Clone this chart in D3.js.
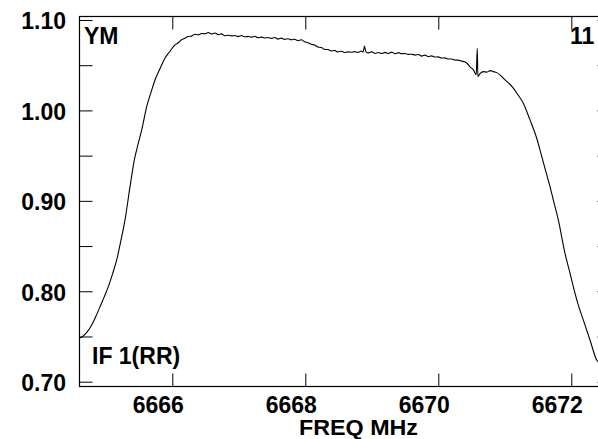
<!DOCTYPE html>
<html><head><meta charset="utf-8">
<script src="https://cdn.jsdelivr.net/npm/d3@7"></script>
<style>html,body{margin:0;padding:0;background:#fff;overflow:hidden}</style>
</head><body><svg id="c" width="598" height="439"></svg>
<script>
// Spectrum data: frequency (MHz) and normalized amplitude
const freq = [6664.597,6664.647,6664.72,6664.788,6664.85,6664.913,6664.975,6665.038,6665.10,6665.164,6665.225,6665.289,6665.364,6665.429,6665.49,6665.540,6665.615,6665.68,6665.740,6665.820,
6665.889,6665.95,6666.00,6666.04,6666.09,6666.14,6666.19,6666.24,6666.29,6666.34,6666.39,6666.44,6666.49,6666.54,6666.59,6666.64,6666.69,6666.74,6666.79,6666.84,6666.89,6666.94,6666.99,
6667.04,6667.09,6667.14,6667.19,6667.24,6667.29,6667.34,6667.39,6667.44,6667.49,6667.54,6667.59,6667.64,6667.69,6667.74,6667.79,6667.84,6667.89,6667.94,6667.99,
6668.04,6668.09,6668.14,6668.19,6668.24,6668.29,6668.34,6668.39,6668.44,6668.49,6668.54,6668.59,6668.64,6668.69,6668.74,6668.79,6668.84,6668.87,6668.89,6668.91,6668.95,
6669.00,6669.05,6669.10,6669.15,6669.20,6669.25,6669.30,6669.35,6669.40,6669.45,6669.50,6669.55,6669.60,6669.65,6669.70,6669.75,6669.80,6669.85,6669.90,6669.95,
6670.00,6670.05,6670.10,6670.15,6670.20,6670.25,6670.30,6670.35,6670.40,6670.43,6670.48,6670.53,6670.57,6670.586,6670.595,6670.63,6670.68,6670.73,6670.78,6670.83,6670.88,6670.94,
6671.003,6671.07,6671.128,6671.20,6671.278,6671.379,6671.480,6671.529,6671.60,6671.680,6671.74,6671.805,6671.905,6671.97,6672.030,6672.10,6672.180,6672.281,6672.382,6672.417,6672.47];
const amp = [0.7483,0.7498,0.7550,0.7627,0.7720,0.7830,0.7935,0.8051,0.8190,0.8346,0.8555,0.8789,0.9157,0.9452,0.9640,0.9784,1.0042,1.0200,1.0337,1.0470,
1.0577,1.0640,1.0690,1.0725,1.0748,1.0781,1.0799,1.0818,1.0822,1.0843,1.0836,1.0850,1.0848,1.0861,1.0845,1.0857,1.0838,1.0846,1.0826,1.0831,1.0824,1.0829,1.0816,
1.0828,1.0814,1.0819,1.0810,1.0821,1.0803,1.0811,1.0801,1.0806,1.0797,1.0807,1.0789,1.0800,1.0785,1.0793,1.0782,1.0787,1.0771,1.0781,1.0760,
1.0749,1.0731,1.0723,1.0702,1.0696,1.0675,1.0673,1.0657,1.0664,1.0646,1.0655,1.0641,1.0647,1.0644,1.0650,1.0641,1.0657,1.0647,1.0712,1.0651,1.0636,
1.0648,1.0630,1.0640,1.0629,1.0642,1.0630,1.0645,1.0628,1.0639,1.0627,1.0630,1.0620,1.0622,1.0612,1.0619,1.0601,1.0612,1.0594,1.0603,1.0590,
1.0592,1.0580,1.0581,1.0568,1.0569,1.0557,1.0556,1.0545,1.0538,1.0522,1.0480,1.0445,1.0395,1.0688,1.0374,1.0410,1.0429,1.0424,1.0440,1.0429,1.0418,1.0385,
1.0337,1.0295,1.0246,1.0170,1.0080,0.9895,0.9692,0.9564,0.9370,0.9157,0.8980,0.8789,0.8420,0.8230,0.8051,0.7860,0.7683,0.7461,0.7240,0.7207,0.7130];

const xTicks = [6666, 6668, 6670, 6672];
const yMajor = [0.70, 0.80, 0.90, 1.00, 1.10];
const yMinor = [0.70,0.75,0.80,0.85,0.90,0.95,1.00,1.05,1.10];
const xTitle = "FREQ MHz";
const labelTL = "YM", labelTR = "11", labelBL = "IF 1(RR)";

const L = 79, R = 610, T = 16, B = 386;
const x = d3.scaleLinear().domain([6664.597, 6672.582]).range([L, R]);
const y = d3.scaleLinear().domain([0.69524, 1.10442]).range([B, T]);

const svg = d3.select("#c");
const font = "'Liberation Sans', Arial, sans-serif";

svg.append("clipPath").attr("id","cp").append("rect")
  .attr("x", L).attr("y", T).attr("width", R-L).attr("height", B-T);
svg.append("path")
  .datum(freq.map((f,i)=>[f, amp[i]]))
  .attr("clip-path","url(#cp)")
  .attr("fill","none").attr("stroke","#000").attr("stroke-width",1.1)
  .attr("stroke-linejoin","round")
  .attr("d", d3.line().curve(d3.curveMonotoneX).x(d=>x(d[0])).y(d=>y(d[1])));

// frame
svg.append("rect").attr("x", L+0.5).attr("y", T+0.5).attr("width", R-L).attr("height", B-T)
  .attr("fill","none").attr("stroke","#000").attr("stroke-width",1.2);

const tl = 13;
const axB = svg.append("g").attr("transform",`translate(0,${B+0.5})`)
  .call(d3.axisBottom(x).tickValues(xTicks).tickSize(-tl).tickFormat(""));
const axT = svg.append("g").attr("transform",`translate(0,${T+0.5})`)
  .call(d3.axisTop(x).tickValues(xTicks).tickSize(-tl).tickFormat(""));
const axL = svg.append("g").attr("transform",`translate(${L+0.5},0)`)
  .call(d3.axisLeft(y).tickValues(yMinor).tickSize(-tl).tickFormat(""));
const axR = svg.append("g").attr("transform",`translate(${R+0.5},0)`)
  .call(d3.axisRight(y).tickValues(yMinor).tickSize(-tl).tickFormat(""));
[axB,axT,axL,axR].forEach(g=>{ g.select(".domain").remove(); g.selectAll("line").attr("stroke","#000"); });

svg.append("g").selectAll("text").data(yMajor).join("text")
  .attr("x", 66).attr("y", d=>y(d)+9.5).attr("text-anchor","end")
  .attr("font-family",font).attr("font-weight","bold").attr("font-size",23)
  .text(d=>d.toFixed(2));
svg.append("g").selectAll("text").data(xTicks).join("text")
  .attr("x", d=>x(d)-14).attr("y", 413).attr("text-anchor","middle")
  .attr("font-family",font).attr("font-weight","bold").attr("font-size",23)
  .text(d=>d);
svg.append("text").attr("x", 299).attr("y", 435)
  .attr("font-family",font).attr("font-weight","bold").attr("font-size",21.5)
  .attr("textLength",119).attr("lengthAdjust","spacingAndGlyphs")
  .text(xTitle);
svg.append("text").attr("x", 84).attr("y", 44)
  .attr("font-family",font).attr("font-weight","bold").attr("font-size",23).text(labelTL);
svg.append("text").attr("x", 570).attr("y", 44)
  .attr("font-family",font).attr("font-weight","bold").attr("font-size",23).text(labelTR);
svg.append("text").attr("x", 92).attr("y", 364)
  .attr("font-family",font).attr("font-weight","bold").attr("font-size",23).text(labelBL);
</script></body></html>
